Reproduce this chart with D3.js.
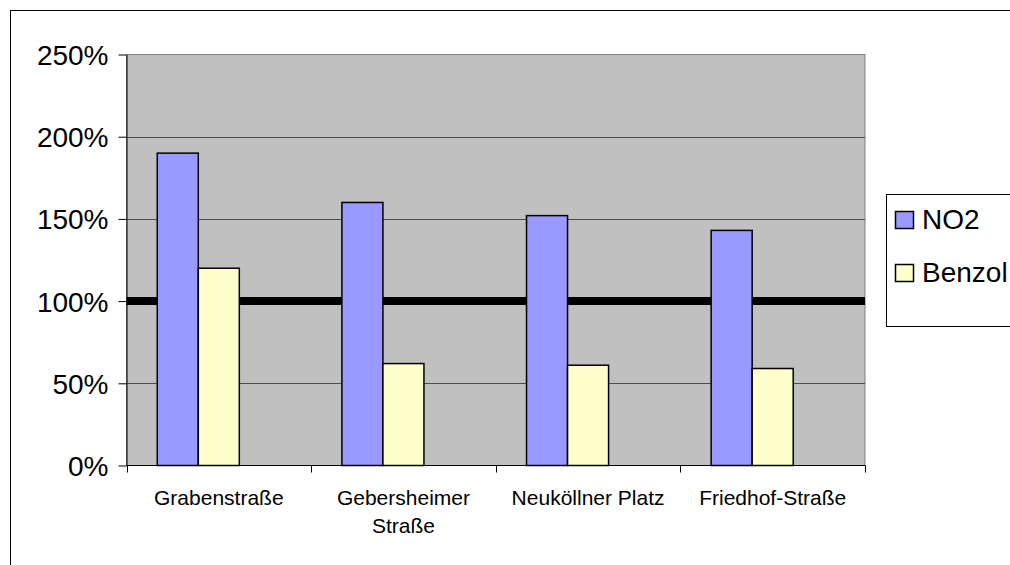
<!DOCTYPE html>
<meta charset="utf-8">
<style>
  html, body {
      margin: 0;
      padding: 0;
      background: #fff;
      overflow: hidden;
  }
  svg text {
      font-family: Arial, "Liberation Sans", sans-serif;
      fill: #000;
  }
  .grid line {
      stroke: #4d4d4d;
      stroke-width: 1px;
  }
  .bar {
      stroke: #000;
      stroke-width: 1.5px;
  }
</style>
<body>
</body>
<script src="https://cdn.jsdelivr.net/npm/d3@7"></script>
<script>

  var width = 1010;
  var height = 565;

  // data (percent of limit value)
  var categories = ["Grabenstraße", "Gebersheimer Straße", "Neuköllner Platz", "Friedhof-Straße"];
  var seriesNames = ["NO2", "Benzol"];
  var no2 = [190, 160, 152, 143];
  var benzol = [120, 62, 61, 59];
  var yTicks = [0, 50, 100, 150, 200, 250];
  var limitValue = 100;

  var colors = {"NO2": "#9999ff", "Benzol": "#ffffcc"};

  var rows = categories.map(function(c, i) {
      return {cat: c, values: [{key: "NO2", value: no2[i]}, {key: "Benzol", value: benzol[i]}]};
  });

  var svg = d3.select("body").append("svg")
      .attr("width", width)
      .attr("height", height);

  /* chart area border */
  svg.append("rect")
      .attr("x", 10.5).attr("y", 10.5)
      .attr("width", 1200).attr("height", 1000)
      .attr("fill", "#fff")
      .attr("stroke", "#000");

  var plot = {left: 126.5, right: 865, top: 54.5, bottom: 465.5};

  var y = d3.scaleLinear()
      .domain([0, 250])
      .range([plot.bottom, plot.top]);

  var x0 = d3.scaleBand()
      .domain(categories)
      .range([plot.left, plot.right])
      .padding(0);

  // Excel keeps a slot for an empty third series, gap width 150%
  var x1 = d3.scaleBand()
      .domain(seriesNames.concat(["_"]))
      .range([0, x0.bandwidth()])
      .paddingInner(0)
      .paddingOuter(0.75);

  /* plot area */
  svg.append("rect")
      .attr("x", plot.left).attr("y", plot.top)
      .attr("width", plot.right - plot.left)
      .attr("height", plot.bottom - plot.top)
      .attr("fill", "#c0c0c0")
      .attr("stroke", "#808080");

  svg.append("g")
      .attr("class", "grid")
      .selectAll("line")
      .data(yTicks.filter(d => d > 0 && d < 250))
      .enter().append("line")
      .attr("x1", plot.left).attr("x2", plot.right)
      .attr("y1", d => Math.round(y(d)) + 0.5)
      .attr("y2", d => Math.round(y(d)) + 0.5);

  /* thick limit line */
  svg.append("line")
      .attr("x1", plot.left).attr("x2", plot.right)
      .attr("y1", y(limitValue)).attr("y2", y(limitValue))
      .attr("stroke", "#000")
      .attr("stroke-width", 8);

  /* bars */
  var groups = svg.selectAll(".cat")
      .data(rows)
      .enter().append("g")
      .attr("class", "cat")
      .attr("transform", d => "translate(" + x0(d.cat) + ",0)");

  groups.selectAll("rect")
      .data(d => d.values)
      .enter().append("rect")
      .attr("class", "bar")
      .attr("x", d => x1(d.key))
      .attr("width", x1.bandwidth())
      .attr("y", d => y(d.value))
      .attr("height", d => y(0) - y(d.value))
      .attr("fill", d => colors[d.key]);

  /* y axis */
  var yAxis = svg.append("g")
      .attr("transform", "translate(" + plot.left + ",0)")
      .call(d3.axisLeft(y)
            .tickValues(yTicks)
            .tickFormat(d => d + "%")
            .tickSize(8)
            .tickSizeOuter(0)
            .tickPadding(10));
  yAxis.select(".domain").attr("stroke", "#000");
  yAxis.selectAll(".tick line").attr("stroke", "#000");
  yAxis.selectAll("text")
      .style("font-size", "28px")
      .attr("dy", "0.36em");

  /* x axis */
  var xAxis = svg.append("g")
      .attr("transform", "translate(0," + plot.bottom + ")");
  xAxis.append("line")
      .attr("x1", plot.left).attr("x2", plot.right)
      .attr("stroke", "#000");
  xAxis.selectAll(".btick")
      .data(categories.map(c => x0(c)).concat([plot.right]))
      .enter().append("line")
      .attr("class", "btick")
      .attr("x1", d => Math.round(d) + 0.5).attr("x2", d => Math.round(d) + 0.5)
      .attr("y1", 0).attr("y2", 7)
      .attr("stroke", "#000");

  var labels = xAxis.selectAll(".xlabel")
      .data(categories)
      .enter().append("text")
      .attr("class", "xlabel")
      .attr("text-anchor", "middle")
      .style("font-size", "21px")
      .attr("x", d => x0(d) + x0.bandwidth() / 2)
      .attr("y", 39);

  labels.each(function(d) {
      var t = d3.select(this);
      var words = d.split(" ");
      var line = [];
      var lineNo = 0;
      var cx = x0(d) + x0.bandwidth() / 2;
      var tspan = t.append("tspan").attr("x", cx).attr("dy", 0);
      words.forEach(function(w) {
          line.push(w);
          tspan.text(line.join(" "));
          if (tspan.node().getComputedTextLength() > x0.bandwidth() - 8 && line.length > 1) {
              line.pop();
              tspan.text(line.join(" "));
              line = [w];
              lineNo++;
              tspan = t.append("tspan").attr("x", cx).attr("dy", 28).text(w);
          }
      });
  });

  /* legend */
  var legend = svg.append("g");
  legend.append("rect")
      .attr("x", 886.5).attr("y", 194.5)
      .attr("width", 200).attr("height", 132)
      .attr("fill", "#fff")
      .attr("stroke", "#000");

  var item = legend.selectAll(".item")
      .data(seriesNames)
      .enter().append("g")
      .attr("class", "item")
      .attr("transform", (d, i) => "translate(895," + (211 + i * 53) + ")");

  item.append("rect")
      .attr("x", 0.5).attr("y", 0.5)
      .attr("width", 18).attr("height", 17)
      .attr("fill", d => colors[d])
      .attr("stroke", "#000")
      .attr("stroke-width", 1.5);

  item.append("text")
      .attr("x", 27)
      .attr("y", 18)
      .style("font-size", "28px")
      .text(d => d);

</script>
